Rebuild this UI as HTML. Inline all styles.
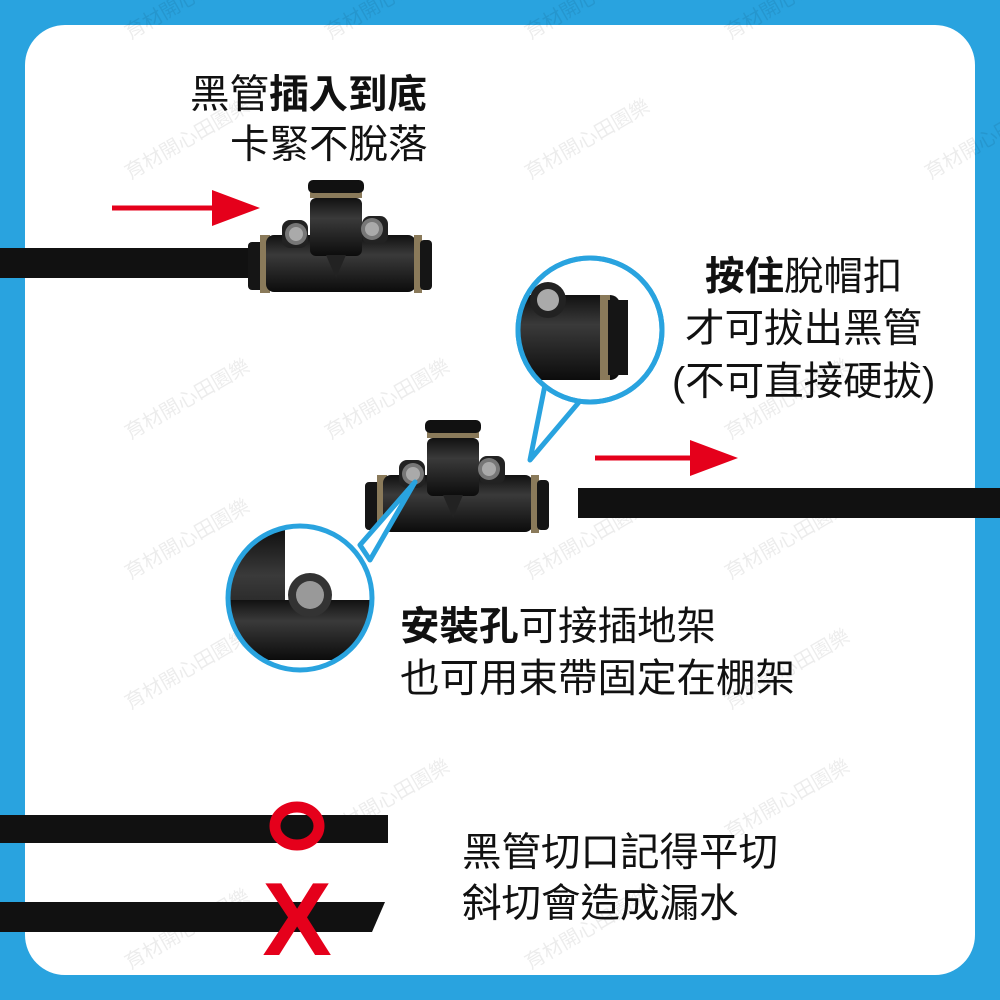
<!DOCTYPE html>
<html><head><meta charset="utf-8"><style>
html,body{margin:0;padding:0;width:1000px;height:1000px;overflow:hidden;background:#29a3df}
.t{font-family:"Liberation Sans","Noto Sans CJK TC",sans-serif;font-size:39.5px;fill:#111}
.b{font-weight:bold}
.w{font-family:"Liberation Sans","Noto Sans CJK TC",sans-serif;font-size:20px;fill:#000;opacity:0.07}
</style></head><body>
<svg width="1000" height="1000" viewBox="0 0 1000 1000" xmlns="http://www.w3.org/2000/svg">
<defs>
<linearGradient id="bd" x1="0" y1="0" x2="0" y2="1"><stop offset="0" stop-color="#111"/><stop offset="0.35" stop-color="#3a3a3a"/><stop offset="1" stop-color="#0c0c0c"/></linearGradient>
<g id="fit">
<rect x="0" y="62" width="18" height="48" rx="4" fill="#151515"/>
<rect x="12" y="55" width="10" height="58" fill="#8a7a5a"/>
<rect x="18" y="55" width="150" height="57" rx="8" fill="url(#bd)"/>
<rect x="166" y="55" width="8" height="58" fill="#8a7a5a"/>
<rect x="172" y="60" width="12" height="50" rx="4" fill="#151515"/>
<rect x="62" y="18" width="52" height="58" rx="6" fill="url(#bd)"/>
<rect x="62" y="12" width="52" height="6" fill="#8a7a5a"/>
<rect x="60" y="0" width="56" height="13" rx="5" fill="#111"/>
<path d="M78 75 L98 75 L88 98 Z" fill="#222"/>
<rect x="34" y="40" width="26" height="28" rx="8" fill="#222"/>
<circle cx="48" cy="54" r="11" fill="#777"/><circle cx="48" cy="54" r="7" fill="#aaa"/>
<rect x="114" y="36" width="26" height="28" rx="8" fill="#222"/>
<circle cx="124" cy="49" r="11" fill="#777"/><circle cx="124" cy="49" r="7" fill="#aaa"/>
</g>
<clipPath id="c1"><circle cx="590" cy="330" r="70"/></clipPath>
<clipPath id="c2"><circle cx="300" cy="598" r="70"/></clipPath>
</defs>
<rect x="25" y="25" width="950" height="950" rx="40" fill="#fff"/>
<g>
<text class="w" transform="translate(130,40) rotate(-30)">育材開心田園樂</text>
<text class="w" transform="translate(330,40) rotate(-30)">育材開心田園樂</text>
<text class="w" transform="translate(530,40) rotate(-30)">育材開心田園樂</text>
<text class="w" transform="translate(730,40) rotate(-30)">育材開心田園樂</text>
<text class="w" transform="translate(130,180) rotate(-30)">育材開心田園樂</text>
<text class="w" transform="translate(530,180) rotate(-30)">育材開心田園樂</text>
<text class="w" transform="translate(930,180) rotate(-30)">育材開心田園樂</text>
<text class="w" transform="translate(130,440) rotate(-30)">育材開心田園樂</text>
<text class="w" transform="translate(330,440) rotate(-30)">育材開心田園樂</text>
<text class="w" transform="translate(730,440) rotate(-30)">育材開心田園樂</text>
<text class="w" transform="translate(130,580) rotate(-30)">育材開心田園樂</text>
<text class="w" transform="translate(530,580) rotate(-30)">育材開心田園樂</text>
<text class="w" transform="translate(730,580) rotate(-30)">育材開心田園樂</text>
<text class="w" transform="translate(130,710) rotate(-30)">育材開心田園樂</text>
<text class="w" transform="translate(730,710) rotate(-30)">育材開心田園樂</text>
<text class="w" transform="translate(330,840) rotate(-30)">育材開心田園樂</text>
<text class="w" transform="translate(730,840) rotate(-30)">育材開心田園樂</text>
<text class="w" transform="translate(130,970) rotate(-30)">育材開心田園樂</text>
<text class="w" transform="translate(530,970) rotate(-30)">育材開心田園樂</text>
</g>
<text class="t" x="190" y="108">黑管<tspan class="b">插入到底</tspan></text>
<text class="t" x="230" y="158">卡緊不脫落</text>
<line x1="112" y1="208" x2="222" y2="208" stroke="#e5001b" stroke-width="5"/>
<path d="M212 190 L260 208 L212 226 Z" fill="#e5001b"/>
<rect x="0" y="248" width="255" height="30" fill="#111"/>
<use href="#fit" transform="translate(248,180)"/>
<path d="M545 385 L530 460 L585 395 Z" fill="#fff" stroke="#29a3df" stroke-width="5" stroke-linejoin="round"/>
<circle cx="590" cy="330" r="72" fill="#fff" stroke="#29a3df" stroke-width="5"/>
<g clip-path="url(#c1)">
<rect x="520" y="295" width="100" height="85" rx="10" fill="url(#bd)"/>
<rect x="600" y="295" width="10" height="85" fill="#8a7a5a"/>
<rect x="608" y="300" width="20" height="75" fill="#151515"/>
<circle cx="548" cy="300" r="18" fill="#222"/><circle cx="548" cy="300" r="11" fill="#aaa"/>
</g>
<circle cx="590" cy="330" r="72" fill="none" stroke="#29a3df" stroke-width="5"/>
<text class="t" x="705" y="290"><tspan class="b">按住</tspan>脫帽扣</text>
<text class="t" x="685" y="342">才可拔出黑管</text>
<text class="t" x="672" y="395">(不可直接硬拔)</text>
<use href="#fit" transform="translate(365,420)"/>
<line x1="595" y1="458" x2="700" y2="458" stroke="#e5001b" stroke-width="5"/>
<path d="M690 440 L738 458 L690 476 Z" fill="#e5001b"/>
<rect x="578" y="488" width="422" height="30" fill="#111"/>
<path d="M360 545 L415 482 L370 560 Z" fill="#fff" stroke="#29a3df" stroke-width="5" stroke-linejoin="round"/>
<circle cx="300" cy="598" r="72" fill="#fff"/>
<g clip-path="url(#c2)">
<rect x="225" y="530" width="60" height="130" fill="url(#bd)"/>
<rect x="230" y="600" width="150" height="60" fill="url(#bd)"/>
<circle cx="310" cy="595" r="22" fill="#333"/><circle cx="310" cy="595" r="14" fill="#999"/>
</g>
<circle cx="300" cy="598" r="72" fill="none" stroke="#29a3df" stroke-width="5"/>
<text class="t" x="400" y="640"><tspan class="b">安裝孔</tspan>可接插地架</text>
<text class="t" x="400" y="692">也可用束帶固定在棚架</text>
<rect x="0" y="815" width="388" height="28" fill="#111"/>
<ellipse cx="297" cy="826" rx="22" ry="19" fill="none" stroke="#e5001b" stroke-width="11"/>
<path d="M0 902 L385 902 L372 932 L0 932 Z" fill="#111"/>
<text x="297" y="955" text-anchor="middle" style="font-family:'Liberation Sans',sans-serif;font-size:104px;font-weight:bold;fill:#e5001b">X</text>
<text class="t" x="462" y="866">黑管切口記得平切</text>
<text class="t" x="462" y="917">斜切會造成漏水</text>
</svg>
</body></html>
